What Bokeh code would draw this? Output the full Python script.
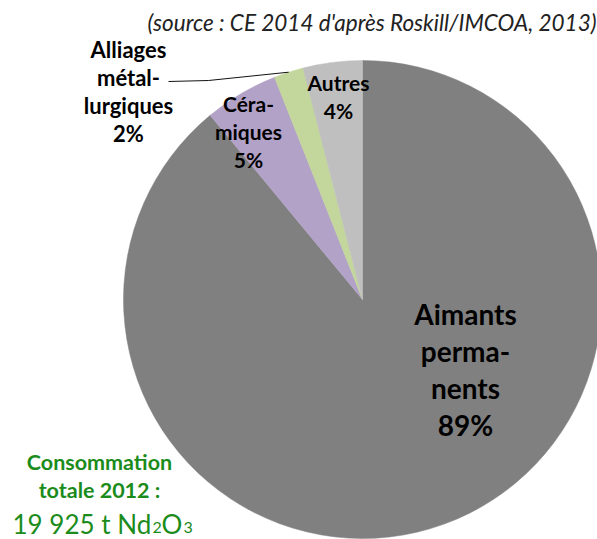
import math
from bokeh.plotting import figure
from bokeh.models import Range1d, ColumnDataSource
from bokeh.embed import file_html
from bokeh.resources import INLINE
from bokeh.core.properties import value

# ---- data ----
categories = ["Aimants permanents", "Céramiques", "Alliages métallurgiques", "Autres"]
values = [89, 5, 2, 4]
colors = ["#808080", "#b3a2c7", "#c3d69b", "#bfbfbf"]
label_lines = [["Aimants", "perma-", "nents"], ["Céra-", "miques"],
               ["Alliages", "métal-", "lurgiques"], ["Autres"]]
source_note = "(source : CE 2014 d'après Roskill/IMCOA, 2013)"
total_lines = ["Consommation", "totale 2012 :"]
total_value = ["19 925 t Nd", "2", "O", "3"]

FONT = "Lato"
GREEN = "#1b8c1b"

W, H = 597, 539


def X(px):
    return px


def Y(py):
    return H - py


p = figure(width=W, height=H, x_range=Range1d(0, W), y_range=Range1d(0, H),
           output_backend="svg", toolbar_location=None, min_border=0,
           x_axis_location=None, y_axis_location=None)
p.grid.visible = False
p.outline_line_color = None
p.background_fill_color = "white"
p.border_fill_color = "white"

# ---- pie ----
cx, cy, R = X(362), Y(299), 239
total = sum(values)
starts, ends = [], []
acc = 0
for v in values:
    starts.append(math.radians(90 - 360 * acc / total))
    acc += v
    ends.append(math.radians(90 - 360 * acc / total))
src = ColumnDataSource(dict(start=starts, end=ends, color=colors, cat=categories, val=values))
p.wedge(x=cx, y=cy, radius=R, start_angle="start", end_angle="end", direction="clock",
        fill_color="color", line_color="color", line_width=0.5, source=src)


def draw_lines(lines, x_px, y0_px, spacing, size, style, color):
    xs = [X(x_px)] * len(lines)
    ys = [Y(y0_px + i * spacing) for i in range(len(lines))]
    p.text(x=xs, y=ys, text=lines, text_align="center", text_baseline="middle",
           text_font=value(FONT), text_font_size=f"{size}px", text_font_style=style,
           text_color=color)


# slice labels: (center x, first line y, spacing, size)
label_pos = [(465, 313, 37, 28), (248, 103, 28, 21), (128, 49, 28, 22), (338, 82, 28, 21)]
for lines, v, (lx, ly, sp, sz) in zip(label_lines, values, label_pos):
    draw_lines(lines + [f"{v}%"], lx, ly, sp, sz, "bold", "black")

# leader line for Alliages
mid = (starts[2] + ends[2]) / 2
p.line(x=[X(168), X(208), cx + R * math.cos(mid)],
       y=[Y(81), Y(80), cy + R * math.sin(mid)],
       line_color="#111111", line_width=1)

# source note
p.text(x=[X(596)], y=[Y(22)], text=[source_note], text_align="right", text_baseline="middle",
       text_font=value(FONT), text_font_size="22.5px", text_font_style="italic",
       text_color="#222222")

# total consumption
draw_lines(total_lines, 99, 461, 28, 21.5, "bold", GREEN)
base = 523
p.text(x=[X(12)], y=[Y(base)], text=[total_value[0]], text_align="left",
       text_baseline="alphabetic", text_font=value(FONT), text_font_size="26px",
       text_color=GREEN)
p.text(x=[X(152), X(183)], y=[Y(base + 4), Y(base + 4)], text=[total_value[1], total_value[3]],
       text_align="left", text_baseline="alphabetic", text_font=value(FONT),
       text_font_size="16px", text_color=GREEN)
p.text(x=[X(161)], y=[Y(base)], text=[total_value[2]], text_align="left",
       text_baseline="alphabetic", text_font=value(FONT), text_font_size="26px",
       text_color=GREEN)

open("out.html", "w").write(file_html(p, INLINE))
